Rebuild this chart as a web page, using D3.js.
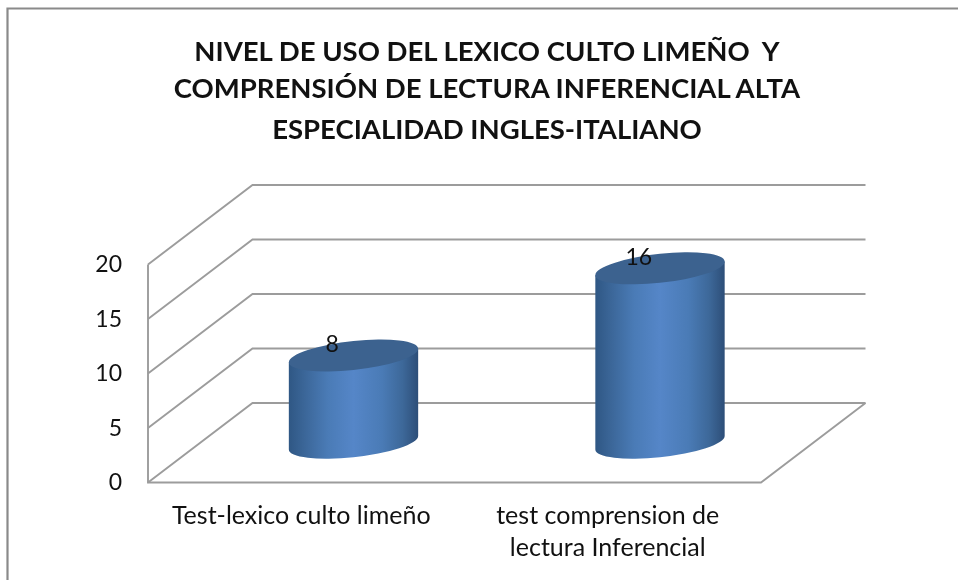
<!DOCTYPE html>
<html><head><meta charset="utf-8">
<script src="https://d3js.org/d3.v7.min.js"></script>
<style>html,body{margin:0;background:#fff}svg{display:block;filter:blur(0.45px)}text{font-family:Lato,"Open Sans",sans-serif;fill:#111;white-space:pre}</style>
</head><body><svg width="958" height="580"></svg>
<script>
const titleLines=["NIVEL DE USO DEL LEXICO CULTO LIMEÑO  Y","COMPRENSIÓN DE LECTURA INFERENCIAL ALTA","ESPECIALIDAD INGLES-ITALIANO"];
const categories=["Test-lexico culto limeño","test comprension de|lectura Inferencial"];
const values=[8,16];
const yTicks=[0,5,10,15,20];

const svg=d3.select("svg");
const W=958,H=580;
const plot={x0:148,x1:761,y0:482.5,y1:264.5,dx:104.5,dy:-79.5};
const y=d3.scaleLinear().domain([0,20]).range([plot.y0,plot.y1]);
const x=d3.scaleBand().domain(categories).range([plot.x0,plot.x1]);

svg.append("path").attr("d",`M7.5,${H} V8.5 H${W}`).attr("fill","none").attr("stroke","#8a8a8a").attr("stroke-width",2.2);

svg.append("g").selectAll("text").data(titleLines).join("text")
 .attr("x",487).attr("y",(d,i)=>[60.5,98,139][i]).attr("text-anchor","middle")
 .attr("font-size",27.5).attr("font-weight",700).text(d=>d);

const grid=svg.append("g").attr("fill","none").attr("stroke","#9c9c9c").attr("stroke-width",1.9);
grid.selectAll("path.g").data(yTicks).join("path").attr("class","g")
 .attr("d",d=>d3.line()([[plot.x0,y(d)],[plot.x0+plot.dx,y(d)+plot.dy],[plot.x1+plot.dx,y(d)+plot.dy]]));
grid.append("path").attr("d",d3.line()([[plot.x0,y(20)],[plot.x0,y(0)],[plot.x1,y(0)],[plot.x1+plot.dx,y(0)+plot.dy]]));

svg.append("g").selectAll("text").data(yTicks).join("text")
 .attr("x",122).attr("y",d=>y(d)+7.5).attr("text-anchor","end").attr("font-size",23).text(d=>d);

const defs=svg.append("defs");
const grad=defs.append("linearGradient").attr("id","cyl").attr("x1",0).attr("x2",1).attr("y1",0).attr("y2",0);
[[0,"#2f5784"],[0.12,"#3b6698"],[0.3,"#4a7bb6"],[0.5,"#5586c8"],[0.72,"#4a7bb6"],[0.88,"#3d6899"],[1,"#2d4e78"]]
 .forEach(([o,c])=>grad.append("stop").attr("offset",o).attr("stop-color",c));

const rx=x.bandwidth()*0.211, ry=14.5, shear=-0.105;
const bars=svg.append("g").selectAll("g").data(values).join("g")
 .attr("transform",(d,i)=>`matrix(1,${shear},0,1,${x(categories[i])+x.bandwidth()/2+plot.dx/2},0)`);
bars.append("path").attr("fill","url(#cyl)")
 .attr("d",d=>{const t=y(d)+plot.dy/2,b=y(0)+plot.dy/2;
   return `M${-rx},${t} L${-rx},${b} A${rx},${ry} 0 0 0 ${rx},${b} L${rx},${t} Z`;});
bars.append("ellipse").attr("rx",rx).attr("ry",ry).attr("cy",d=>y(d)+plot.dy/2).attr("fill","#3c628f");

svg.append("g").selectAll("text").data(values).join("text")
 .attr("x",(d,i)=>x(categories[i])+x.bandwidth()/2+31).attr("y",d=>y(d)-43.5)
 .attr("text-anchor","middle").attr("font-size",23).text(d=>d);

const lab=svg.append("g").selectAll("text").data(categories).join("text")
 .attr("text-anchor","middle").attr("font-size",25);
lab.each(function(d,i){
  d.split("|").forEach((l,j)=>d3.select(this).append("tspan")
    .attr("x",x(d)+x.bandwidth()/2).attr("y",524+j*32).text(l));
});
</script></body></html>
